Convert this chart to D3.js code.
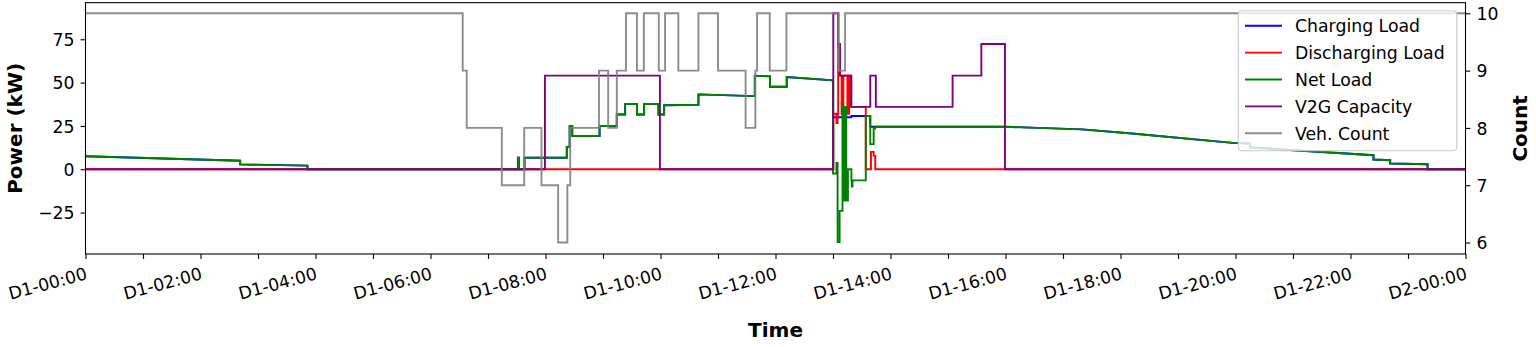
<!DOCTYPE html>
<html><head><meta charset="utf-8">
<script src="https://cdn.jsdelivr.net/npm/d3@7"></script>
<style>body{margin:0;background:#fff} svg{display:block} text{font-family:"DejaVu Sans",sans-serif}</style>
</head><body>
<svg id="c" width="1536" height="347"></svg>
<script>
const xTickHours = [0,1,2,3,4,5,6,7,8,9,10,11,12,13,14,15,16,17,18,19,20,21,22,23,24];
const xLabelHours = [0,2,4,6,8,10,12,14,16,18,20,22,24];
const xTickLabels = ["D1-00:00","D1-02:00","D1-04:00","D1-06:00","D1-08:00","D1-10:00","D1-12:00","D1-14:00","D1-16:00","D1-18:00","D1-20:00","D1-22:00","D2-00:00"];
const powerTicks = [-25,0,25,50,75];
const countTicks = [6,7,8,9,10];
const seriesNames = ["Charging Load","Discharging Load","Net Load","V2G Capacity","Veh. Count"];
const seriesColors = ["blue","red","green","purple","gray"];

// [hour, kW]
const chargingLoad = [[0,7.5],[2.69,4.9],[2.69,2.8],[3.86,2.1],[3.86,0],[7.52,0],[7.52,6.6],[7.54,6.6],[7.54,0],[7.635,0],[7.635,6.6],[8.37,6.6],[8.37,12.9],[8.42,12.9],[8.42,24.9],[8.435,24.9],[8.435,19.1],[8.45,19.1],[8.45,24.9],[8.465,24.9],[8.465,19.1],[8.94,19.1],[8.94,24.9],[9.24,24.9],[9.24,31.6],[9.385,31.6],[9.385,37.6],[9.59,37.6],[9.59,31.6],[9.715,31.6],[9.715,37.6],[9.964,37.6],[9.964,31.6],[10.063,31.6],[10.063,36.9],[10.66,37.2],[10.66,43.2],[11.64,42.2],[11.64,54],[11.905,53.6],[11.905,47.6],[12.195,47.6],[12.195,53.2],[13.0,51.3],[13.0,30],[13.32,30],[13.32,30.7],[13.648,30.7],[13.648,24.5],[16.0,24.5],[17.33,23.0],[18.2,20.6],[19.95,15.2],[20.25,14.8],[20.25,12.6],[22.40,8.1],[22.40,5.6],[22.69,5.2],[22.69,3.3],[23.34,2.9],[23.34,0],[24,0]];
// step-after change points [hour, kW]
const dischargingLoad = [[0,0],[13.005,32],[13.06,26.6],[13.08,32],[13.09,72],[13.12,54],[13.15,32],[13.18,54],[13.25,32],[13.28,54],[13.30,36],[13.57,0],[13.66,10],[13.707,7.7],[13.735,0],[24,0]];
const netLoad = [[0,7.5],[2.69,4.9],[2.69,2.8],[3.86,2.1],[3.86,0],[7.52,0],[7.52,6.6],[7.54,6.6],[7.54,0],[7.635,0],[7.635,6.6],[8.37,6.6],[8.37,12.9],[8.42,12.9],[8.42,24.9],[8.435,24.9],[8.435,19.1],[8.45,19.1],[8.45,24.9],[8.465,24.9],[8.465,19.1],[8.94,19.1],[8.94,24.9],[9.24,24.9],[9.24,31.6],[9.385,31.6],[9.385,37.6],[9.59,37.6],[9.59,31.6],[9.715,31.6],[9.715,37.6],[9.964,37.6],[9.964,31.6],[10.063,31.6],[10.063,36.9],[10.66,37.2],[10.66,43.2],[11.64,42.2],[11.64,54],[11.905,53.6],[11.905,47.6],[12.195,47.6],[12.195,53.2],[13.0,51.3],[13.0,-2.5],[13.06,-2.5],[13.06,3.7],[13.08,3.7],[13.08,-42],[13.115,-42],[13.115,-24],[13.165,-24],[13.165,36],[13.19,36],[13.19,-18],[13.21,-18],[13.21,36],[13.23,36],[13.23,-18],[13.26,-18],[13.26,0],[13.32,0],[13.32,-6.4],[13.33,-6.4],[13.33,-10],[13.34,-10],[13.34,-6.4],[13.57,-6.4],[13.57,30.7],[13.648,30.7],[13.648,14.5],[13.707,14.5],[13.707,23.5],[13.735,23.5],[13.735,24.5],[16.0,24.5],[17.33,23.0],[18.2,20.6],[19.95,15.2],[20.25,14.8],[20.25,12.6],[22.40,8.1],[22.40,5.6],[22.69,5.2],[22.69,3.3],[23.34,2.9],[23.34,0],[24,0]];
const v2gCapacity = [[0,0],[7.99,54],[9.99,0],[13.005,90],[13.09,72.3],[13.12,54],[13.32,36],[13.648,54],[13.745,36],[15.08,54],[15.58,72.3],[15.99,0],[24,0]];
// step-after change points [hour, count]
const vehCount = [[0,10],[6.56,9],[6.63,8],[7.24,7],[7.63,8],[7.93,7],[8.22,6],[8.38,7],[8.43,8],[8.93,9],[9.09,8],[9.24,9],[9.40,10],[9.59,9],[9.71,10],[9.97,9],[10.08,10],[10.31,9],[10.66,10],[11.00,9],[11.48,8],[11.65,9],[11.68,10],[11.90,9],[12.19,10],[13.10,9],[13.21,10],[24,10]];

const L=85.5, R=1465.5, T=2.7, B=254;
const FS = "17.3px", LFS = "20px";
const svg = d3.select("#c");
const x = d3.scaleLinear().domain([0,24]).range([L,R]);
const yL = d3.scaleLinear().domain([-48.9,96.1]).range([B,T]);
const yR = d3.scaleLinear().domain([5.8,10.185]).range([B,T]);

const lineL = d3.line().x(d=>x(d[0])).y(d=>yL(d[1]));
const stepL = d3.line().x(d=>x(d[0])).y(d=>yL(d[1])).curve(d3.curveStepAfter);
const stepR = d3.line().x(d=>x(d[0])).y(d=>yR(d[1])).curve(d3.curveStepAfter);

const g = svg.append("g");
const draw = (data, gen, color, op) => g.append("path").datum(data).attr("d", gen)
  .attr("fill","none").attr("stroke",color).attr("stroke-width",1.9)
  .attr("stroke-linejoin","miter").attr("stroke-opacity",op||1);
draw(chargingLoad, lineL, seriesColors[0]);
draw(dischargingLoad, stepL, seriesColors[1]);
draw(netLoad, lineL, seriesColors[2]);
draw(v2gCapacity, stepL, seriesColors[3]);
draw(vehCount, stepR, seriesColors[4], 0.9);

// axes
const fmt = d => d<0 ? "\u2212"+Math.abs(d) : String(d);
const ax = svg.append("g").attr("transform",`translate(0,${B})`)
  .call(d3.axisBottom(x).tickValues(xTickHours)
    .tickFormat(d=>{const i=xLabelHours.indexOf(d); return i>=0?xTickLabels[i]:"";})
    .tickSize(4.9).tickSizeOuter(0));
ax.selectAll("text").attr("x",0).attr("y",0).attr("dy",0)
  .attr("text-anchor","end").attr("transform","translate(2,25) rotate(-15)");
const ayl = svg.append("g").attr("transform",`translate(${L},0)`)
  .call(d3.axisLeft(yL).tickValues(powerTicks).tickFormat(fmt).tickSize(4.9).tickPadding(6).tickSizeOuter(0));
const ayr = svg.append("g").attr("transform",`translate(${R},0)`)
  .call(d3.axisRight(yR).tickValues(countTicks).tickFormat(d3.format("d")).tickSize(4.9).tickPadding(6).tickSizeOuter(0));
[ax,ayl,ayr].forEach(a=>{
  a.select(".domain").remove();
  a.selectAll("line").attr("stroke","#000").attr("stroke-width",1.1);
  a.selectAll("text").attr("font-size",FS).attr("fill","#000").style("font-family","DejaVu Sans");
});
ayl.selectAll("text").attr("dy","0.36em");
ayr.selectAll("text").attr("dy","0.36em");

svg.append("rect").attr("x",L).attr("y",T).attr("width",R-L).attr("height",B-T)
  .attr("fill","none").attr("stroke","#000").attr("stroke-width",1.1);

// axis labels
svg.append("text").attr("x",(L+R)/2).attr("y",337).attr("text-anchor","middle")
  .attr("font-size",LFS).attr("font-weight","bold").text("Time");
svg.append("text").attr("transform",`translate(22,${(T+B)/2}) rotate(-90)`).attr("text-anchor","middle")
  .attr("font-size",LFS).attr("font-weight","bold").text("Power (kW)");
svg.append("text").attr("transform",`translate(1527,${(T+B)/2}) rotate(-90)`).attr("text-anchor","middle")
  .attr("font-size",LFS).attr("font-weight","bold").text("Count");

// legend
const lg = svg.append("g");
lg.append("rect").attr("x",1238.3).attr("y",10.7).attr("width",218.4).attr("height",140)
  .attr("rx",3.5).attr("fill","#fff").attr("fill-opacity",0.8).attr("stroke","#cccccc").attr("stroke-width",1.1);
seriesNames.forEach((n,i)=>{
  const yy = 25.7 + i*26.9;
  lg.append("line").attr("x1",1245).attr("x2",1282).attr("y1",yy).attr("y2",yy)
    .attr("stroke",seriesColors[i]).attr("stroke-width",1.9).attr("stroke-opacity", i===4?0.9:1);
  lg.append("text").attr("x",1295).attr("y",yy).attr("dy","0.36em").attr("font-size",FS).text(n);
});
</script>
</body></html>
